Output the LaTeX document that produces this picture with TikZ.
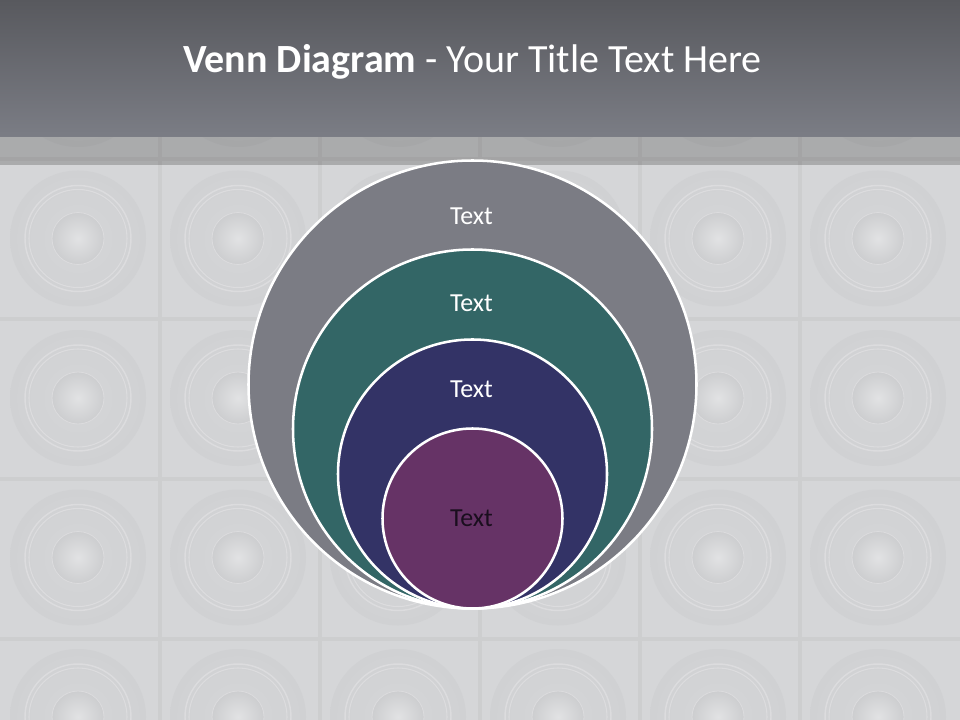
\documentclass[tikz,border=0pt]{standalone}
\usepackage{fontspec}
\setmainfont{Carlito}
\usetikzlibrary{shadings}
\definecolor{bgc}{HTML}{D5D6D8}
\definecolor{gridc}{HTML}{CDCECF}
\definecolor{spkdisc}{HTML}{D0D1D3}
\definecolor{spkring}{HTML}{DCDCDE}
\definecolor{hdtop}{HTML}{58595E}
\definecolor{hdbot}{HTML}{7B7D85}
\definecolor{cgray}{HTML}{7B7C84}
\definecolor{cteal}{HTML}{336666}
\definecolor{cnavy}{HTML}{333366}
\definecolor{cpurple}{HTML}{663366}
\definecolor{darktxt}{HTML}{1A0E1E}
\tikzset{
  ring/.style={circle, draw=white, line width=1.9pt, inner sep=0pt},
  lbl/.style={font=\fontsize{19.5}{22}\selectfont, text=white, inner sep=0pt},
}
\begin{document}
\begin{tikzpicture}[x=0.75pt,y=-0.75pt]
\useasboundingbox (0,0) rectangle (960,720);
% background
\fill[bgc] (0,0) rectangle (960,720);
% tile grid
\foreach \i in {1,...,5} {
  \draw[gridc, line width=3.5pt] (160*\i,0) -- (160*\i,720);
}
\foreach \j in {1,...,4} {
  \draw[gridc, line width=3.5pt] (0,160*\j-1) -- (960,160*\j-1);
}
% speakers
\foreach \i in {0,...,5} {
  \foreach \j in {0,...,4} {
    \begin{scope}[shift={(78+160*\i,79+159.5*\j)}]
      \shade[inner color=bgc, outer color=spkdisc] (0,0) circle[radius=68];
      \draw[spkring, line width=1.1pt] (0,0) circle[radius=53];
      \draw[spkring, line width=0.8pt] (0,0) circle[radius=49];
      \shade[inner color=white!30!bgc, outer color=bgc!96!black] (-4,-4) circle[radius=0.1] (0,0) circle[radius=26];
      \draw[spkring, line width=0.6pt] (0,0) circle[radius=26];
    \end{scope}
  }
}
% translucent strip
\fill[black, opacity=0.2] (0,137) rectangle (960,165);
% header
\shade[top color=hdtop, bottom color=hdbot] (0,0) rectangle (960,137);
\node[anchor=base west, inner sep=0pt, text=white, font=\fontsize{30}{34}\selectfont] (title) at (183,73)
  {\textbf{Venn Diagram} - Your Title Text Here};
% nested circles
\node[ring, fill=cgray, minimum size=336pt] (c1) at (472.5,384.5) {};
\node[ring, fill=cteal, minimum size=269.25pt] (c2) at (472.5,429) {};
\node[ring, fill=cnavy, minimum size=201.75pt] (c3) at (472.5,474) {};
\node[ring, fill=cpurple, minimum size=135pt] (c4) at (472.5,518.5) {};
% labels
\node[lbl] (t1) at (471.5,216) {Text};
\node[lbl] (t2) at (471.5,303) {Text};
\node[lbl] (t3) at (471.5,389) {Text};
\node[lbl, text=darktxt] (t4) at (471.5,518) {Text};
\end{tikzpicture}
\end{document}
